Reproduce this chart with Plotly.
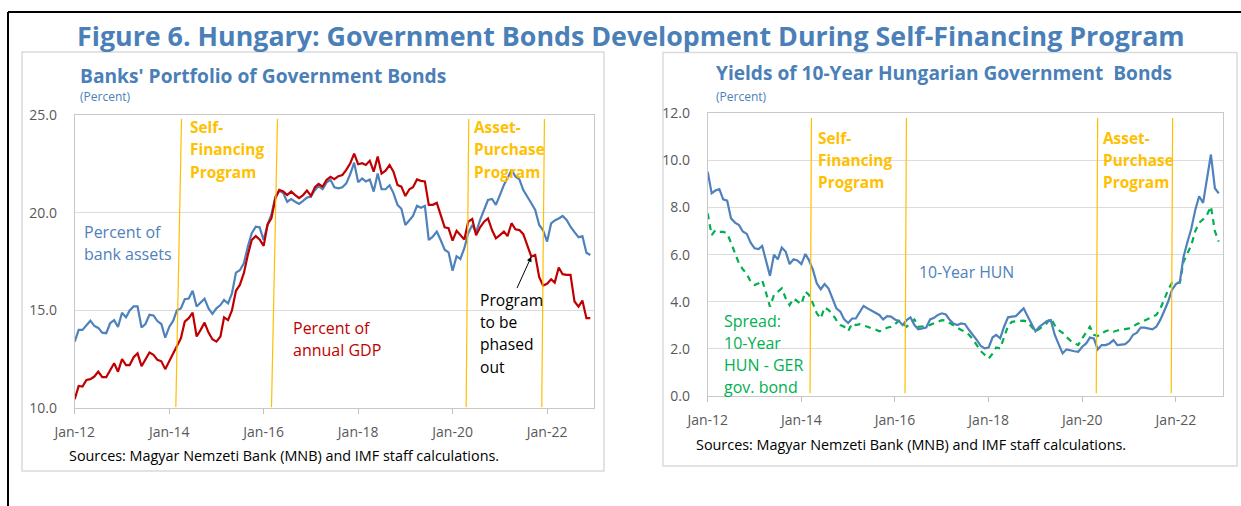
import pandas as pd
import plotly.graph_objects as go

# --- data (monthly, Jan-2012 .. Dec-2022) ---
bank_assets = [
    13.4, 14.0, 14.0, 14.25, 14.47, 14.2, 14.1, 13.86, 13.83, 14.34, 14.5, 14.15,
    14.88, 14.64, 14.99, 15.2, 15.2, 14.12, 14.3, 14.77, 14.74, 14.45, 14.3, 13.6,
    14.15, 14.47, 15.0, 15.1, 15.57, 15.6, 16.0, 15.2, 15.4, 15.6, 15.1, 14.82,
    15.1, 15.27, 15.53, 15.35, 15.87, 16.93, 17.05, 17.41, 18.26, 18.95, 19.28, 19.25,
    18.6, 19.4, 19.9, 20.82, 21.13, 21.0, 20.56, 20.7, 20.56, 20.45, 20.6, 20.77,
    20.82, 21.16, 21.36, 21.2, 21.54, 21.68, 21.3, 21.25, 21.3, 21.5, 21.98, 22.56,
    21.56, 21.75, 21.6, 21.7, 21.08, 22.0, 21.2, 21.2, 21.4, 21.0, 20.4, 20.2,
    19.37, 19.6, 19.83, 20.35, 20.25, 20.35, 18.6, 18.77, 19.03, 18.6, 18.1, 17.97,
    17.03, 17.77, 17.63, 18.18, 18.95, 19.37, 19.0, 19.63, 20.14, 20.65, 20.7, 20.4,
    20.9, 21.42, 21.76, 22.19, 21.85, 21.7, 21.16, 20.85, 20.48, 20.14, 19.37, 19.1,
    18.52, 19.45, 19.6, 19.7, 19.83, 19.63, 19.28, 19.0, 18.74, 18.8, 17.95, 17.83,
]
annual_gdp = [
    10.45, 11.13, 11.1, 11.44, 11.48, 11.61, 11.86, 11.58, 11.58, 11.92, 12.29, 11.86,
    12.5, 12.2, 12.2, 12.6, 12.8, 12.14, 12.5, 12.84, 12.72, 12.47, 12.39, 11.99,
    12.39, 12.8, 13.23, 13.57, 14.42, 14.6, 14.88, 13.66, 14.0, 14.37, 13.86, 13.52,
    13.4, 13.66, 14.64, 14.5, 14.99, 16.0, 16.3, 16.9, 17.84, 18.6, 18.8, 18.63,
    18.3, 19.4, 19.71, 20.74, 21.16, 21.08, 20.9, 21.08, 20.9, 20.74, 20.9, 21.13,
    20.86, 21.3, 21.47, 21.33, 21.67, 21.84, 21.72, 21.87, 21.93, 22.19, 22.53, 23.02,
    22.48, 22.53, 22.44, 22.66, 22.1, 22.87, 22.0, 22.15, 22.44, 22.1, 21.42, 21.33,
    20.85, 21.2, 21.3, 21.7, 21.63, 21.6, 20.4, 20.4, 20.5, 19.88, 19.25, 19.2,
    18.57, 19.07, 18.85, 18.63, 19.54, 19.67, 18.85, 19.25, 19.54, 19.71, 19.11, 18.69,
    18.85, 19.03, 18.8, 19.46, 19.15, 19.11, 18.9, 18.3, 17.75, 17.83, 16.7, 16.27,
    16.36, 16.59, 16.42, 17.19, 16.85, 16.82, 16.82, 15.45, 15.19, 15.5, 14.6, 14.6,
]
hun_10y = [
    9.52, 8.6, 8.72, 8.78, 8.35, 8.29, 7.54, 7.36, 7.26, 6.98, 6.88, 6.51,
    6.27, 6.24, 6.37, 5.75, 5.1, 6.0, 5.8, 6.3, 6.12, 5.6, 5.8, 5.75,
    5.6, 6.03, 5.77, 5.35, 4.78, 4.53, 4.75, 4.56, 4.14, 3.72, 3.58, 3.25,
    3.1, 3.29, 3.29, 3.58, 3.82, 3.72, 3.62, 3.51, 3.44, 3.25, 3.39, 3.37,
    3.25, 3.18, 3.01, 3.22, 3.34, 3.01, 2.83, 2.87, 2.91, 3.25, 3.32, 3.44,
    3.51, 3.46, 3.25, 3.08, 3.01, 3.08, 3.05, 2.8, 2.59, 2.37, 2.12, 2.02,
    2.06, 2.49, 2.59, 2.45, 2.94, 3.34, 3.37, 3.39, 3.56, 3.72, 3.39, 3.05,
    2.75, 2.94, 3.06, 3.18, 3.22, 2.59, 2.2, 1.81, 1.98, 1.93, 1.9, 1.88,
    2.09, 2.23, 2.48, 2.44, 1.98, 2.16, 2.16, 2.23, 2.37, 2.16, 2.18, 2.2,
    2.34, 2.6, 2.68, 2.9, 2.9, 2.85, 2.83, 2.94, 3.23, 3.6, 4.0, 4.5,
    4.75, 4.85, 5.9, 6.54, 7.1, 7.9, 8.48, 8.2, 9.33, 10.25, 8.82, 8.6,
]
spread_hun_ger = [
    7.75, 6.83, 7.04, 6.97, 6.97, 6.9, 6.5, 6.1, 5.63, 5.38, 5.18, 4.85,
    4.71, 4.78, 4.92, 4.36, 3.79, 4.29, 4.43, 4.57, 4.14, 3.86, 4.14, 4.04,
    3.9, 4.43, 4.29, 3.93, 3.51, 3.29, 3.76, 3.65, 3.46, 3.22, 3.01, 2.94,
    2.75, 3.08, 3.01, 3.05, 3.01, 2.94, 2.87, 2.83, 2.75, 2.8, 2.9, 2.94,
    3.05, 3.2, 3.1, 2.94, 3.1, 3.25, 2.94, 2.95, 2.97, 3.02, 3.08, 3.15,
    3.22, 3.2, 3.1, 3.01, 2.9, 2.8, 2.73, 2.6, 2.4, 2.15, 1.9, 1.75,
    1.59, 1.8, 2.06, 2.02, 2.51, 2.97, 3.15, 3.17, 3.18, 3.2, 3.15, 2.94,
    2.73, 2.85, 2.98, 3.1, 3.3, 3.0, 2.8, 2.68, 2.5, 2.35, 2.25, 2.16,
    2.45, 2.7, 2.94, 2.6, 2.55, 2.66, 2.75, 2.8, 2.73, 2.78, 2.8, 2.84,
    2.87, 2.95, 3.05, 3.12, 3.2, 3.3, 3.38, 3.44, 3.7, 4.1, 4.5, 4.8,
    4.8, 4.81, 5.7, 6.05, 6.4, 7.0, 7.35, 7.5, 7.7, 8.05, 7.0, 6.55,
]
# programme start / end dates (self-financing, asset purchase)
program_dates = ["2014-03-15", "2016-03-25", "2020-04-25", "2021-12-01"]
phase_out_idx = 116  # Sep-2021, where the arrow points

months = pd.date_range("2012-01-01", periods=len(bank_assets), freq="MS")

W, H = 1241, 506
FONT = "Open Sans"
TITLE_BLUE = "#4a7fb8"
BLUE = "#4f81bd"
RED = "#c00000"
GREEN = "#00b050"
ORANGE = "#ffc000"
GREY = "#595959"


def px(x):
    return x / W


def py(y):
    return 1 - y / H


fig = go.Figure()

fig.add_trace(go.Scatter(x=months, y=bank_assets, mode="lines", xaxis="x", yaxis="y",
                         line=dict(color=BLUE, width=2.2), name="Percent of bank assets"))
fig.add_trace(go.Scatter(x=months, y=annual_gdp, mode="lines", xaxis="x", yaxis="y",
                         line=dict(color=RED, width=2.2), name="Percent of annual GDP"))
fig.add_trace(go.Scatter(x=months, y=spread_hun_ger, mode="lines", xaxis="x2", yaxis="y2",
                         line=dict(color=GREEN, width=2.2, dash="6px,5px"), name="Spread"))
fig.add_trace(go.Scatter(x=months, y=hun_10y, mode="lines", xaxis="x2", yaxis="y2",
                         line=dict(color=BLUE, width=2.2), name="10-Year HUN"))

tickfont = dict(family=FONT, size=14, color=GREY)
xcommon = dict(type="date", range=["2012-01-01", "2023-01-01"], tick0="2012-01-01",
               dtick="M24", tickformat="%b-%y", ticks="outside", ticklen=5,
               tickcolor="#bfbfbf", showgrid=False, showline=True, linecolor="#c8c8c8",
               mirror=True, tickfont=tickfont, ticklabelstandoff=6, fixedrange=True,
               automargin=False)
ycommon = dict(tickformat=".1f", showgrid=True, gridcolor="#dcdcdc", showline=True,
               linecolor="#c8c8c8", mirror=True, zeroline=False, ticks="",
               tickfont=tickfont, ticklabelstandoff=14, fixedrange=True, automargin=False)

fig.update_layout(
    width=W, height=H,
    margin=dict(l=0, r=0, t=0, b=0, pad=0, autoexpand=False),
    paper_bgcolor="white", plot_bgcolor="white",
    showlegend=False,
    xaxis=dict(xcommon, domain=[px(74.7), px(594.3)], anchor="y"),
    yaxis=dict(ycommon, domain=[py(408), py(115)], anchor="x", range=[10, 25], dtick=5),
    xaxis2=dict(xcommon, domain=[px(707.7), px(1222.7)], anchor="y2"),
    yaxis2=dict(ycommon, domain=[py(396), py(113.3)], anchor="x2", range=[0, 12], dtick=2),
)

# outer frame and panel boxes
fig.add_shape(type="line", xref="paper", yref="paper", x0=px(8), y0=py(506), x1=px(8), y1=py(12),
              line=dict(color="black", width=2))
fig.add_shape(type="line", xref="paper", yref="paper", x0=px(8), y0=py(12), x1=1, y1=py(12),
              line=dict(color="black", width=2))
fig.add_shape(type="rect", xref="paper", yref="paper", x0=px(22), y0=py(471), x1=px(604), y1=py(52),
              line=dict(color="#dadada", width=1.5), layer="below")
fig.add_shape(type="rect", xref="paper", yref="paper", x0=px(663), y0=py(466), x1=px(1237), y1=py(52.5),
              line=dict(color="#dadada", width=1.5), layer="below")

# programme lines (slightly slanted, as hand-drawn in the original)
left_slant = [5.7, 6.0, 2.6, 2.7]
for d, s in zip(program_dates, left_slant):
    fig.add_shape(type="line", xref="x", yref="y domain", xsizemode="pixel", xanchor=d,
                  x0=-s / 2, x1=s / 2, y0=0.003, y1=0.986, line=dict(color=ORANGE, width=1.2))
for d in program_dates:
    fig.add_shape(type="line", xref="x2", yref="y2 domain", xsizemode="pixel", xanchor=d,
                  x0=-0.7, x1=0.7, y0=0.01, y1=0.983, line=dict(color=ORANGE, width=1.2))


def add_text(lines, x, y0, size, color, step=22.4, bold=False):
    for i, t in enumerate(lines):
        fig.add_annotation(x=px(x), y=py(y0 + i * step), xref="paper", yref="paper",
                           text=f"<b>{t}</b>" if bold else t, showarrow=False,
                           xanchor="left", yanchor="middle",
                           font=dict(family=FONT, size=size, color=color))


fig.add_annotation(x=px(631), y=py(35), xref="paper", yref="paper",
                   text="<b>Figure 6. Hungary: Government Bonds Development During Self-Financing Program</b>",
                   showarrow=False, xanchor="center", yanchor="middle",
                   font=dict(family=FONT, size=26.8, color=TITLE_BLUE))

# left panel texts
add_text(["Banks' Portfolio of Government Bonds"], 78, 75, 19.2, TITLE_BLUE, bold=True)
add_text(["(Percent)"], 78, 96, 12, TITLE_BLUE)
add_text(["Percent of", "bank assets"], 82, 232, 16, BLUE, step=21.7)
add_text(["Percent of", "annual GDP"], 291, 328, 16, RED, step=21.7)
add_text(["Self-", "Financing", "Program"], 188, 127, 15.4, ORANGE, step=22.5, bold=True)
add_text(["Asset-", "Purchase", "Program"], 472, 127, 15.4, ORANGE, step=22.5, bold=True)
add_text(["Program", "to be", "phased", "out"], 478, 299.5, 15.6, "black", step=22.4)
add_text(["Sources: Magyar Nemzeti Bank (MNB) and IMF staff calculations."], 67, 455, 14.4, "black")

fig.add_annotation(x=months[phase_out_idx], y=annual_gdp[phase_out_idx], xref="x", yref="y",
                   ax=-15, ay=33, axref="pixel", ayref="pixel", text="", showarrow=True,
                   arrowhead=2, arrowsize=1, arrowwidth=1, arrowcolor="black", standoff=0)

# right panel texts
add_text(["Yields of 10-Year Hungarian Government  Bonds"], 714, 73, 19.1, TITLE_BLUE, bold=True)
add_text(["(Percent)"], 714, 96, 12, TITLE_BLUE)
add_text(["10-Year HUN"], 917, 271.7, 15.8, BLUE)
add_text(["Spread:", "10-Year", "HUN - GER", "gov. bond"], 722, 320.7, 16, GREEN, step=22.2)
add_text(["Self-", "Financing", "Program"], 816, 138.3, 15.4, ORANGE, step=22.2, bold=True)
add_text(["Asset-", "Purchase", "Program"], 1101, 138.3, 15.4, ORANGE, step=22.2, bold=True)
add_text(["Sources: Magyar Nemzeti Bank (MNB) and IMF staff calculations."], 694, 444, 14.4, "black")

pin = ("document.body.style.margin='0';"
       "var gd=document.getElementById('{plot_id}');"
       "gd.style.position='fixed';gd.style.left='0';gd.style.top='0';")
fig.write_html("out.html", config={"displayModeBar": False}, post_script=pin)
